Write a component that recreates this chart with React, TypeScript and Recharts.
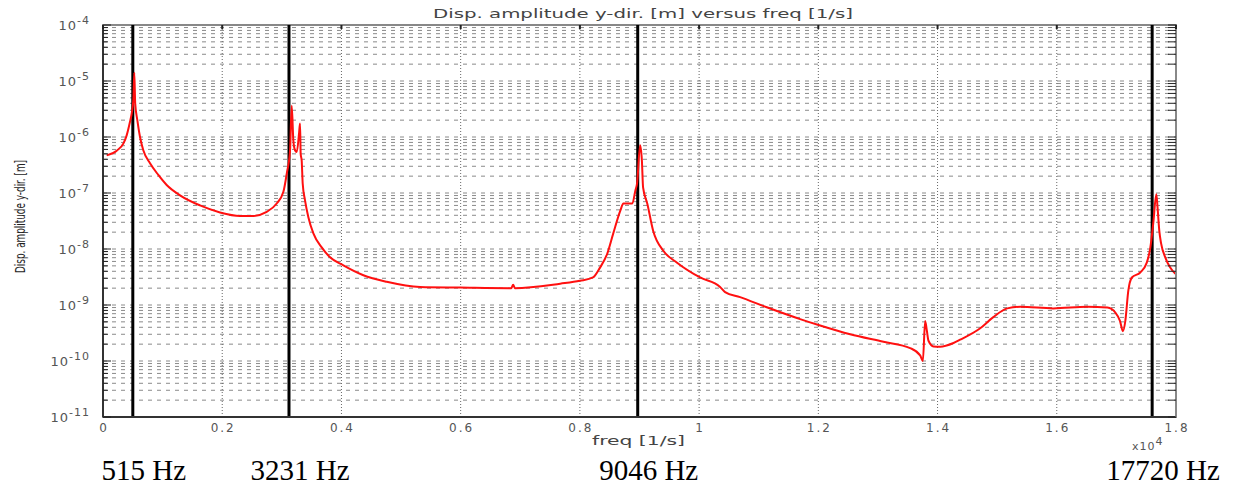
import { LineChart, Line, XAxis, YAxis, ReferenceLine, ReferenceArea } from 'recharts';

// frequency [1/s] and displacement amplitude [m]
const freq = [
  62, 230, 341, 397, 453, 481, 509, 525, 540, 576, 621, 676, 789, 928, 1068, 1292, 1628, 1963, 2299, 2520,
  2746, 2914, 3026, 3082, 3138, 3166, 3193, 3221, 3250, 3290, 3305, 3316, 3333, 3350, 3389, 3445, 3529, 3669,
  3809, 4032, 4368, 4760, 5319, 5990, 6850, 6880, 6910, 7670, 8000, 8220, 8340, 8460, 8560, 8680, 8730, 8880,
  8930, 8960, 9010, 9040, 9060, 9130, 9230, 9400, 9630, 10017, 10352, 10436, 10688, 11135, 11694, 12030, 12534,
  13093, 13540, 13708, 13753, 13792, 13820, 13848, 13932, 14044, 14268, 14379, 14710, 14930, 15170, 15390,
  15940, 16510, 16850, 16980, 17060, 17110, 17150, 17200, 17260, 17400, 17510, 17570, 17620, 17670, 17690,
  17720, 17750, 17820, 17900, 17990,
];
const amp = [
  4.7e-7, 5.7e-7, 7.6e-7, 1.07e-6, 1.87e-6, 2.6e-6, 4.6e-6, 1.4e-5, 4.0e-6, 2.0e-6, 1.0e-6, 5.8e-7, 3.4e-7,
  2.1e-7, 1.39e-7, 9.1e-8, 6.0e-8, 4.5e-8, 3.9e-8, 3.9e-8, 4.6e-8, 6.5e-8, 1.05e-7, 2.2e-7, 5.8e-7, 3.6e-6,
  8.7e-7, 5.8e-7, 5.4e-7, 1.2e-6, 1.75e-6, 5.0e-7, 3.8e-7, 1.48e-7, 7.4e-8, 3.7e-8, 1.9e-8, 1.07e-8, 7.1e-9,
  5.1e-9, 3.4e-9, 2.6e-9, 2.1e-9, 2.05e-9, 2.0e-9, 2.3e-9, 2.0e-9, 2.4e-9, 2.7e-9, 3.1e-9, 4.7e-9, 8.3e-9,
  1.9e-8, 4.9e-8, 6.5e-8, 6.5e-8, 1.1e-7, 1.5e-7, 7.1e-7, 3.8e-7, 1.26e-7, 6.5e-8, 2.1e-8, 9.3e-9, 5.7e-9,
  3.1e-9, 2.1e-9, 1.7e-9, 1.38e-9, 9.1e-10, 5.6e-10, 4.3e-10, 3.0e-10, 2.2e-10, 1.7e-10, 1.26e-10, 1.0e-10,
  5.2e-10, 3.5e-10, 2.3e-10, 1.82e-10, 1.8e-10, 2.1e-10, 2.4e-10, 3.8e-10, 6.0e-10, 8.7e-10, 9.3e-10, 8.7e-10,
  9.3e-10, 9.0e-10, 7.4e-10, 5.2e-10, 3.4e-10, 5.2e-10, 1.8e-9, 3.1e-9, 3.8e-9, 5.7e-9, 1.07e-8, 3e-8, 9.5e-8,
  5.6e-8, 2.1e-8, 1.26e-8, 7.1e-9, 4.7e-9, 3.6e-9,
];

const xTicks = [0, 2000, 4000, 6000, 8000, 10000, 12000, 14000, 16000, 18000];
const xTickLabels = ['0', '0.2', '0.4', '0.6', '0.8', '1', '1.2', '1.4', '1.6', '1.8'];
const decades = [1e-11, 1e-10, 1e-9, 1e-8, 1e-7, 1e-6, 1e-5, 1e-4];
const decadeExps = ['-11', '-10', '-9', '-8', '-7', '-6', '-5', '-4'];
const minorSteps = [2, 3, 4, 5, 6, 7, 8, 9];

// marked resonances: where the black lines sit, and their captions
const modeFreqs = [500, 3120, 8970, 17600];
const modeLabels = ['515 Hz', '3231 Hz', '9046 Hz', '17720 Hz'];

const chartData = freq.map((f, i) => ({ f, a: amp[i] }));
const minorValues = decades.slice(0, -1).flatMap(d => minorSteps.map(m => m * d));
const yGridValues = [...decades.slice(1, -1), ...minorValues];
const yTickValues = [...decades, ...minorValues];

const PLOT_LEFT = 103;
const PLOT_RIGHT = 1176;
const PLOT_TOP = 25;
const tickFont = 'DejaVu Sans, Verdana, sans-serif';

function LeftTick({ y, payload }: any) {
  const idx = decades.findIndex(d => Math.abs(d - payload.value) / d < 1e-6);
  const major = idx >= 0;
  return (
    <g>
      <line x1={PLOT_LEFT} x2={PLOT_LEFT + (major ? 8 : 5)} y1={y} y2={y} stroke="#222" strokeWidth={1} />
      {major && (
        <text x={90} y={y + 5} textAnchor="end" fill="#555" fontSize={13} fontFamily={tickFont} letterSpacing={1}>
          10<tspan dy={-6} fontSize={11}>{decadeExps[idx]}</tspan>
        </text>
      )}
    </g>
  );
}

function RightTick({ y }: any) {
  return <line x1={PLOT_RIGHT - 8} x2={PLOT_RIGHT} y1={y} y2={y} stroke="#222" strokeWidth={1} />;
}

function BottomTick({ x, payload }: any) {
  const i = xTicks.indexOf(payload.value);
  return (
    <g>
      <line x1={x} x2={x} y1={PLOT_TOP} y2={PLOT_TOP + 4} stroke="#222" strokeWidth={2} />
      <text x={x + 1} y={432} textAnchor="middle" fill="#555" fontSize={12} fontFamily={tickFont} letterSpacing={2}>
        {xTickLabels[i]}
      </text>
    </g>
  );
}

export default function App() {
  return (
    <div style={{ position: 'absolute', left: 0, top: 0, width: 1241, height: 489, background: '#fff' }}>
      <LineChart width={1241} height={489} data={chartData} margin={{ top: PLOT_TOP, right: 0, bottom: 42, left: 0 }}>
        <XAxis
          type="number"
          dataKey="f"
          domain={[0, 18000]}
          ticks={xTicks}
          allowDataOverflow
          height={30}
          tickLine={false}
          tick={<BottomTick />}
          axisLine={{ stroke: '#333', strokeWidth: 2 }}
        />
        <YAxis
          yAxisId="l"
          scale="log"
          domain={[1e-11, 1e-4]}
          ticks={yTickValues}
          allowDataOverflow
          width={PLOT_LEFT}
          tickLine={false}
          interval={0}
          tick={<LeftTick />}
          axisLine={{ stroke: '#333', strokeWidth: 2 }}
        />
        <YAxis
          yAxisId="r"
          orientation="right"
          scale="log"
          domain={[1e-11, 1e-4]}
          ticks={yTickValues}
          allowDataOverflow
          width={1241 - PLOT_RIGHT}
          tickLine={false}
          interval={0}
          tick={<RightTick />}
          axisLine={{ stroke: '#888', strokeWidth: 2 }}
        />
        {yGridValues.map(v => (
          <ReferenceLine key={'h' + v} yAxisId="l" y={v} stroke="#8a8a8a" strokeDasharray="4 5" strokeWidth={1} />
        ))}
        {xTicks.slice(1, -1).map(v => (
          <ReferenceLine key={'v' + v} yAxisId="l" x={v} stroke="#666" strokeDasharray="1 2" strokeWidth={1} />
        ))}
        <ReferenceArea
          yAxisId="l"
          x1={0}
          x2={18000}
          y1={1e-11}
          y2={1e-4}
          fill="none"
          stroke="#888"
          strokeWidth={2}
          fillOpacity={0}
        />
        {modeFreqs.map((v, i) => (
          <ReferenceLine
            key={'m' + v}
            yAxisId="l"
            x={v}
            stroke="#000"
            strokeWidth={3}
            label={(p: any) => (
              <text
                x={p.viewBox.x + 11}
                y={480}
                textAnchor="middle"
                fill="#000"
                fontSize={29}
                fontFamily="Liberation Serif, Times New Roman, serif"
              >
                {modeLabels[i]}
              </text>
            )}
          />
        ))}
        <Line
          yAxisId="l"
          type="monotoneX"
          dataKey="a"
          stroke="#ff1010"
          strokeWidth={2}
          dot={false}
          isAnimationActive={false}
        />
      </LineChart>
      <svg width={1241} height={489} style={{ position: 'absolute', left: 0, top: 0, pointerEvents: 'none' }}>
        <text x={433} y={18} fill="#444" fontSize={12} fontFamily={tickFont} textLength={420} lengthAdjust="spacingAndGlyphs">
          Disp. amplitude y-dir. [m] versus freq [1/s]
        </text>
        <text x={592} y={445} fill="#444" fontSize={12} fontFamily={tickFont} textLength={93} lengthAdjust="spacingAndGlyphs">
          freq [1/s]
        </text>
        <text x={1132} y={450} fill="#555" fontSize={11} fontFamily={tickFont} letterSpacing={1}>
          x10<tspan dy={-5} fontSize={11}>4</tspan>
        </text>
        <text
          transform="translate(25 273) rotate(-90)"
          x={0}
          y={0}
          fill="#222"
          fontSize={14}
          fontFamily="Liberation Sans Narrow, DejaVu Sans Condensed, sans-serif"
          textLength={113}
          lengthAdjust="spacingAndGlyphs"
        >
          Disp. amplitude y-dir. [m]
        </text>
      </svg>
    </div>
  );
}
